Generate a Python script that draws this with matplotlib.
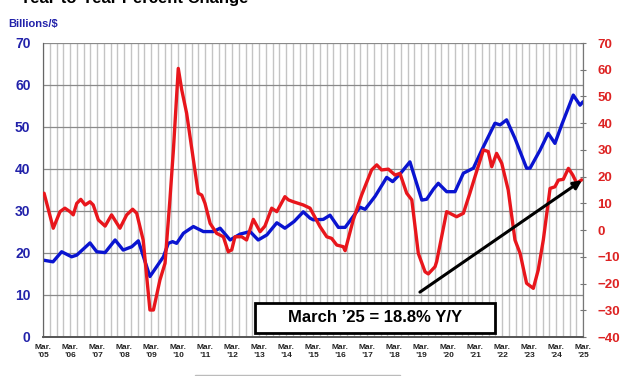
import matplotlib
matplotlib.use("Agg")
import matplotlib.pyplot as plt
from matplotlib.patches import Rectangle
import numpy as np

plt.rcParams['font.family'] = ['Liberation Sans', 'DejaVu Sans']

# Blue series: Billions of $ (left axis) - decimal years measured from March
blue_t = [2005.01, 2005.37, 2005.69, 2006.06, 2006.25, 2006.74, 2006.99, 2007.30, 2007.67,
          2007.97, 2008.29, 2008.53, 2008.96, 2009.46, 2009.64, 2009.80, 2009.95, 2010.20,
          2010.57, 2010.94, 2011.31, 2011.56, 2011.93, 2012.30, 2012.67, 2012.97, 2013.29,
          2013.66, 2013.96, 2014.30, 2014.64, 2014.89, 2015.01, 2015.38, 2015.63, 2015.94,
          2016.19, 2016.49, 2016.74, 2016.93, 2017.30, 2017.73, 2017.95, 2018.22, 2018.59,
          2019.03, 2019.21, 2019.46, 2019.64, 2019.95, 2020.26, 2020.57, 2020.94, 2021.31,
          2021.74, 2021.93, 2022.17, 2022.48, 2022.91, 2023.04, 2023.41, 2023.71, 2023.96,
          2024.21, 2024.64, 2024.89, 2025.00]
blue_v = [18.3, 17.9, 20.3, 19.1, 19.5, 22.4, 20.3, 20.1, 23.1,
          20.7, 21.5, 22.9, 14.4, 19.1, 22.3, 22.7, 22.3, 24.7,
          26.3, 25.1, 25.1, 25.9, 23.1, 24.5, 25.1, 23.1, 24.3,
          27.2, 25.9, 27.5, 29.8, 28.3, 27.9, 28.0, 29.0, 26.1,
          26.1, 28.7, 30.9, 30.4, 33.5, 38.0, 37.0, 38.8, 41.7,
          32.6, 32.8, 35.2, 36.6, 34.6, 34.6, 39.0, 40.2, 45.3,
          50.9, 50.5, 51.7, 47.3, 40.2, 40.2, 44.5, 48.5, 46.1,
          50.5, 57.6, 55.2, 56.0]

# Red series: Year-to-Year percent change (right axis)
red_t = [2005.04, 2005.38, 2005.63, 2005.81, 2006.00, 2006.12, 2006.25, 2006.40, 2006.56,
         2006.74, 2006.86, 2007.05, 2007.30, 2007.54, 2007.85, 2008.10, 2008.32, 2008.47,
         2008.71, 2008.96, 2009.09, 2009.33, 2009.52, 2009.70, 2009.83, 2010.01, 2010.14,
         2010.32, 2010.75, 2010.88, 2011.00, 2011.19, 2011.43, 2011.68, 2011.86, 2011.99,
         2012.11, 2012.36, 2012.54, 2012.79, 2013.04, 2013.22, 2013.47, 2013.66, 2013.96,
         2014.09, 2014.27, 2014.64, 2014.89, 2015.26, 2015.51, 2015.69, 2015.88, 2016.12,
         2016.19, 2016.49, 2016.80, 2017.17, 2017.36, 2017.54, 2017.79, 2018.04, 2018.22,
         2018.47, 2018.66, 2018.90, 2019.15, 2019.27, 2019.52, 2019.58, 2019.95, 2020.32,
         2020.57, 2020.81, 2021.00, 2021.31, 2021.49, 2021.62, 2021.80, 2021.99, 2022.23,
         2022.48, 2022.67, 2022.91, 2023.16, 2023.34, 2023.53, 2023.78, 2023.96, 2024.09,
         2024.27, 2024.46, 2024.62, 2024.77, 2024.95]
red_v = [13.8, 0.7, 6.9, 8.2, 6.9, 5.7, 10.0, 11.5, 9.4,
         10.6, 9.4, 3.8, 1.5, 5.7, 0.7, 5.7, 7.8, 6.3,
         -3.7, -29.9, -29.9, -18.7, -12.4, 11.3, 30.0, 60.5, 52.4,
         43.7, 13.8, 13.1, 10.0, 2.5, -1.2, -2.5, -8.1, -7.4,
         -2.5, -2.5, -3.7, 4.0, -0.6, 1.5, 8.2, 6.9, 12.5,
         11.3, 10.6, 9.4, 8.2, 1.3, -2.5, -3.1, -5.6, -6.2,
         -7.7, 3.8, 13.1, 22.5, 24.4, 22.5, 22.8, 20.6, 21.2,
         13.8, 11.3, -8.7, -15.6, -16.4, -13.7, -11.8, 6.9, 5.0,
         6.3, 13.8, 20.0, 30.0, 29.4, 23.7, 28.7, 25.0, 15.0,
         -3.7, -8.7, -19.9, -21.8, -15.0, -3.7, 15.6, 16.2, 18.7,
         19.0, 23.1, 20.6, 17.5, 18.8]

years = list(range(2005, 2026))
xtick_labels = [f"Mar.\n\u2019{y % 100:02d}" for y in years]
left_ticks = list(range(0, 71, 10))
right_ticks = list(range(-40, 71, 10))

title_text = "Year-to-Year Percent Change"
units_text = "Billions/$"
note_text = "March \u201925 = 18.8% Y/Y"
arrow_start = (2018.96, -23.2)
arrow_end = (2024.96, 18.6)

BLUE_TXT = "#2222aa"
RED_TXT = "#dd2222"
BLUE_LINE = "#0a14d0"
RED_LINE = "#e8161c"

fig = plt.figure(figsize=(6.27, 3.76), dpi=100)
ax = fig.add_axes([43/627, 1-337/376, 540/627, 294/376])
ax2 = ax.twinx()

ax.set_xlim(2005, 2025)
ax.set_ylim(0, 70)
ax2.set_ylim(-40, 70)

# grid
ax.set_xticks(np.arange(2005, 2025.01, 0.25), minor=True)
ax.grid(which='minor', axis='x', color='#c4c4c4', lw=1.0)
ax.set_xticks(years)
ax.set_xticklabels(xtick_labels, fontsize=6, fontweight='bold', color='#222222', linespacing=1.25)
ax.grid(which='major', axis='x', color='#c4c4c4', lw=1.0)
ax.set_yticks(left_ticks)
ax.grid(which='major', axis='y', color='#8a8a8a', lw=0.9)
ax.set_axisbelow(True)
ax.tick_params(axis='x', which='both', length=0, pad=5)
ax.tick_params(axis='y', length=0, pad=9, labelsize=10, labelcolor=BLUE_TXT)
for lab in ax.get_yticklabels():
    lab.set_fontweight('bold')

ax2.set_yticks(right_ticks)
ax2.tick_params(axis='y', direction='inout', length=5, color='#777777', pad=8,
                labelsize=9.5, labelcolor=RED_TXT)
for lab in ax2.get_yticklabels():
    lab.set_fontweight('bold')

for a in (ax, ax2):
    a.spines['top'].set_visible(False)
    a.spines['left'].set_color('#666666')
    a.spines['bottom'].set_color('#555555')
    a.spines['right'].set_color('#777777')
    a.spines['bottom'].set_linewidth(1.2)

ax.plot(blue_t, blue_v, color=BLUE_LINE, lw=2.4, solid_joinstyle='round',
        solid_capstyle='round', zorder=3)
ax2.plot(red_t, red_v, color=RED_LINE, lw=2.4, solid_joinstyle='round',
         solid_capstyle='round', zorder=3)

ax2.annotate("", xy=arrow_end, xytext=arrow_start,
             arrowprops=dict(arrowstyle='-|>', color='black', lw=2.2,
                             mutation_scale=12, shrinkA=0, shrinkB=0), zorder=4)

# annotation box
x0, x1 = (255-43)/540, (495-43)/540
y0, y1 = (337-333)/294, (337-303)/294
ax2.add_patch(Rectangle((x0, y0), x1-x0, y1-y0, transform=ax2.transAxes,
                        facecolor='white', edgecolor='black', lw=2.0, zorder=5))
ax2.text((x0+x1)/2, (y0+y1)/2, note_text, transform=ax2.transAxes, ha='center', va='center',
         fontsize=12, fontweight='bold', color='black', zorder=6)

fig.text(20/627, 1-3.5/376, title_text, fontsize=12, fontweight='bold', ha='left', va='baseline')
fig.text(8/627, 1-27.5/376, units_text, fontsize=8, fontweight='bold', color=BLUE_TXT,
         ha='left', va='baseline')

# partially visible legend frame at bottom
fig.patches.append(Rectangle((195/627, -0.05), 205/627, 0.05 + 1/376, transform=fig.transFigure,
                             facecolor='none', edgecolor='#bbbbbb', lw=1.0))

fig.savefig("out.png", dpi=100)
